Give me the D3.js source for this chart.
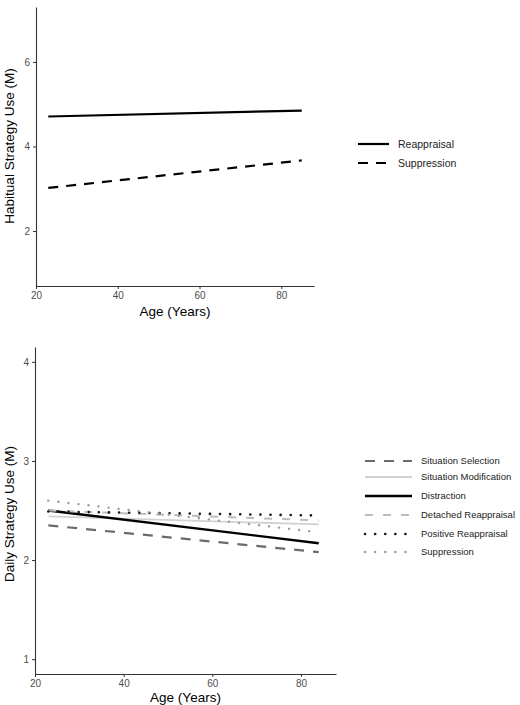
<!DOCTYPE html>
<html><head><meta charset="utf-8">
<script src="https://cdn.jsdelivr.net/npm/d3@7"></script>
<style>body{margin:0;background:#fff}svg{display:block;font-family:"Liberation Sans",Arial,sans-serif}</style>
</head><body><svg id="c" width="520" height="705"></svg>
<script>
// Top panel data
const habitualSeries = ["Reappraisal", "Suppression"];
const habitualAgeRange = [23, 85];
const habitualStart = [4.71, 3.02];
const habitualEnd = [4.85, 3.67];
const habitualXTicks = [20, 40, 60, 80];
const habitualYTicks = [2, 4, 6];

// Bottom panel data
const dailySeries = ["Situation Selection", "Situation Modification", "Distraction", "Detached Reappraisal", "Positive Reappraisal", "Suppression"];
const dailyAgeRange = [23, 84];
const dailyStart = [2.35, 2.44, 2.50, 2.50, 2.49, 2.60];
const dailyEnd = [2.08, 2.36, 2.17, 2.40, 2.45, 2.28];
const dailyXTicks = [20, 40, 60, 80];
const dailyYTicks = [1, 2, 3, 4];

const svg = d3.select("#c");

const habStyles = [
  {stroke:"#000", width:2.2, dash:null, cap:"butt"},
  {stroke:"#000", width:2.2, dash:"10,8", cap:"butt"}
];
const dailyStyles = [
  {stroke:"#6b6b6b", width:2.2, dash:"10,9", cap:"butt"},
  {stroke:"#d2d2d2", width:1.8, dash:null, cap:"butt"},
  {stroke:"#000", width:2.4, dash:null, cap:"butt"},
  {stroke:"#bcbcbc", width:2, dash:"8,10", cap:"butt"},
  {stroke:"#1a1a1a", width:2.6, dash:"0.1,10", cap:"round"},
  {stroke:"#9c9c9c", width:2.4, dash:"0.1,10", cap:"round"}
];

function panel(cfg){
  const g = svg.append("g");
  const x = d3.scaleLinear().domain(cfg.xdom).range([cfg.left, cfg.right]);
  const y = d3.scaleLinear().domain(cfg.ydom).range([cfg.bottom, cfg.top]);
  const fmt = d3.format("d");
  const xa = g.append("g").attr("transform",`translate(0,${cfg.bottom})`)
    .call(d3.axisBottom(x).tickValues(cfg.xticks).tickFormat(fmt).tickSize(3).tickPadding(3).tickSizeOuter(0));
  const ya = g.append("g").attr("transform",`translate(${cfg.left},0)`)
    .call(d3.axisLeft(y).tickValues(cfg.yticks).tickFormat(fmt).tickSize(3).tickPadding(3).tickSizeOuter(0));
  [xa,ya].forEach(a=>{
    a.select(".domain").attr("stroke","#333").attr("stroke-width",1.1);
    a.selectAll(".tick line").attr("stroke","#333");
    a.selectAll(".tick text").attr("fill","#4d4d4d").attr("font-size","10px").attr("font-family","Liberation Sans, Arial, sans-serif");
  });
  g.append("text").attr("x",(cfg.left+cfg.right)/2).attr("y",cfg.xtitleY).attr("text-anchor","middle")
    .attr("font-size","13.5px").attr("fill","#000").text("Age (Years)");
  g.append("text").attr("transform",`translate(${cfg.ytitleX},${cfg.ytitleC}) rotate(-90)`)
    .attr("text-anchor","middle").attr("font-size","13.5px").attr("fill","#000").text(cfg.ytitle);
  cfg.series.forEach((s,i)=>{
    const st = cfg.styles[i];
    const pts = [[cfg.ages[0], cfg.start[i]],[cfg.ages[1], cfg.end[i]]];
    g.append("path").attr("d", d3.line().x(d=>x(d[0])).y(d=>y(d[1]))(pts))
      .attr("fill","none").attr("stroke",st.stroke).attr("stroke-width",st.width)
      .attr("stroke-dasharray",st.dash).attr("stroke-linecap",st.cap);
  });
  // legend
  cfg.series.forEach((s,i)=>{
    const st = cfg.styles[i];
    const ly = cfg.legY[i];
    g.append("line").attr("x1",cfg.legX).attr("x2",cfg.legX+cfg.legW).attr("y1",ly).attr("y2",ly)
      .attr("stroke",st.stroke).attr("stroke-width",st.width).attr("stroke-dasharray",st.dash).attr("stroke-linecap",st.cap);
    g.append("text").attr("x",cfg.legX+cfg.legW+cfg.legGap).attr("y",ly).attr("dy","0.35em")
      .attr("font-size",cfg.legFont).attr("fill","#222").text(s);
  });
}

panel({xdom:[20,88], ydom:[0.7,7.3], left:36, right:314, top:7, bottom:286,
  xticks:habitualXTicks, yticks:habitualYTicks, ages:habitualAgeRange, start:habitualStart, end:habitualEnd,
  series:habitualSeries, styles:habStyles, xtitleY:316, ytitleX:14, ytitleC:146, ytitle:"Habitual Strategy Use (M)",
  legX:358, legW:31, legGap:9, legY:[144,163], legFont:"10.5px"});

panel({xdom:[20,87.9], ydom:[0.85,4.15], left:35, right:336, top:347, bottom:674,
  xticks:dailyXTicks, yticks:dailyYTicks, ages:dailyAgeRange, start:dailyStart, end:dailyEnd,
  series:dailySeries, styles:dailyStyles, xtitleY:702, ytitleX:14, ytitleC:514, ytitle:"Daily Strategy Use (M)",
  legX:365, legW:47, legGap:9, legY:[461,477,496,515,534,552], legFont:"9.5px"});
</script></body></html>
